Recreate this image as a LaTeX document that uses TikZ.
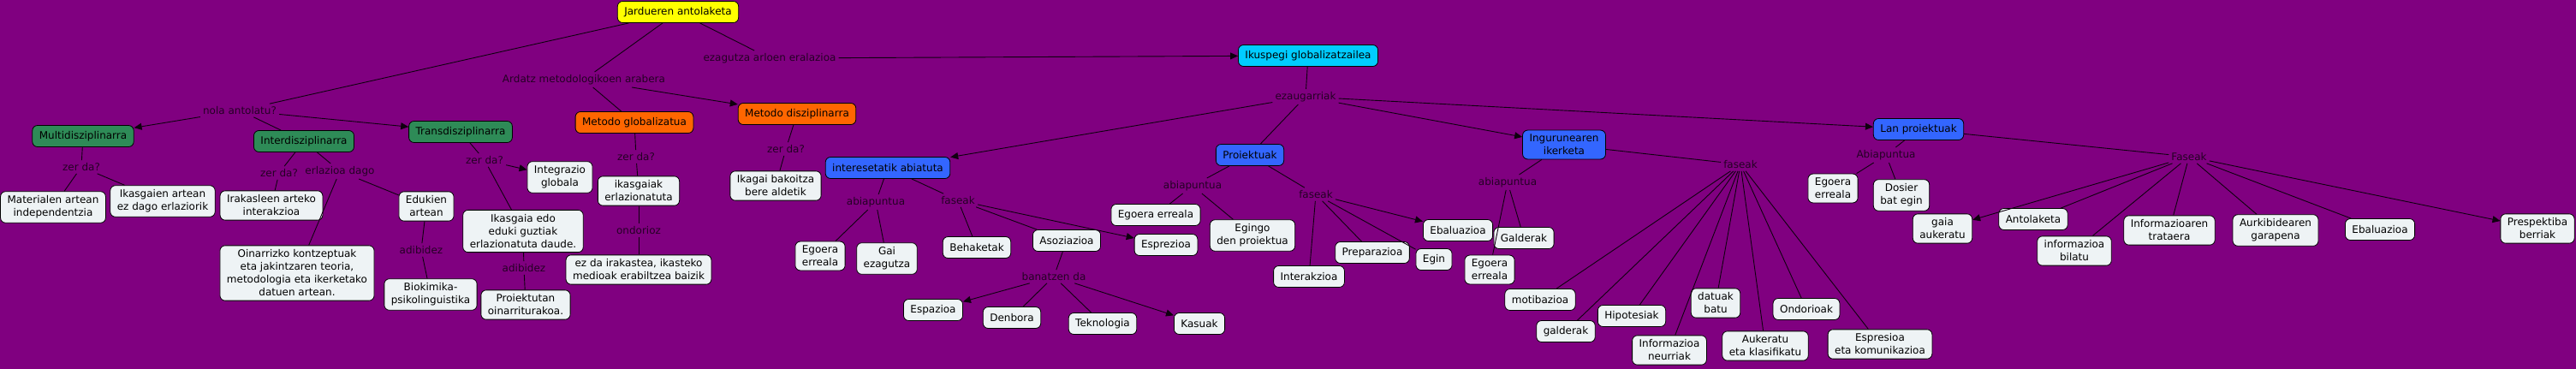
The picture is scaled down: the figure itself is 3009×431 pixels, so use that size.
\documentclass[tikz,border=0pt]{standalone}
\usepackage{fontspec}
\setmainfont{DejaVu Sans}
\usetikzlibrary{arrows.meta}
\definecolor{bgpurple}{RGB}{128,0,128}
\definecolor{boxfill}{RGB}{238,243,245}
\definecolor{lblcol}{RGB}{36,0,36}
\definecolor{linecol}{RGB}{15,0,15}
\definecolor{cgreen}{RGB}{46,139,87}
\definecolor{corange}{RGB}{255,102,0}
\definecolor{cblue}{RGB}{51,102,255}
\definecolor{ccyan}{RGB}{0,204,255}
\definecolor{cyellow}{RGB}{255,255,0}
\begin{document}
\begin{tikzpicture}[x=1pt,y=-1pt,
  concept/.style={draw=black, line width=0.8pt, rounded corners=6pt, fill=boxfill,
    align=center, font=\fontsize{12}{15}\selectfont, inner xsep=8pt, inner ysep=5pt,
    minimum height=25pt, text=black},
  green/.style={concept, fill=cgreen},
  orange/.style={concept, fill=corange},
  blue/.style={concept, fill=cblue},
  cyanbox/.style={concept, fill=ccyan},
  yellowbox/.style={concept, fill=cyellow},
  lbl/.style={font=\fontsize{12}{15}\selectfont, text=lblcol, inner sep=3pt},
  conn/.style={draw=linecol, line width=0.9pt},
  arr/.style={conn, -{Triangle[length=9pt,width=8pt]}}
]
\fill[bgpurple] (0,0) rectangle (3009,431);
\useasboundingbox (0,0) rectangle (3009,431);

% ---------- concepts ----------
\node[yellowbox] (jard) at (792,14) {Jardueren antolaketa};
\node[green] (multi) at (97,159) {Multidisziplinarra};
\node[green] (inter) at (355,165) {Interdisziplinarra};
\node[green] (trans) at (538,154) {Transdisziplinarra};
\node[concept] (mat) at (62,242) {Materialen artean\\independentzia};
\node[concept] (ikasgaien) at (190,235) {Ikasgaien artean\\ez dago erlaziorik};
\node[concept] (irak) at (317,240) {Irakasleen arteko\\interakzioa};
\node[concept] (oin) at (347,319) {Oinarrizko kontzeptuak\\eta jakintzaren teoria,\\metodologia eta ikerketako\\datuen artean.};
\node[concept] (eduk) at (498,241) {Edukien\\artean};
\node[concept] (biok) at (503,344) {Biokimika-\\psikolinguistika};
\node[concept] (integ) at (654,207) {Integrazio\\globala};
\node[concept] (ikasgaia) at (611,270) {Ikasgaia edo\\eduki guztiak\\erlazionatuta daude.};
\node[concept] (proiektutan) at (614,356) {Proiektutan\\oinarriturakoa.};
\node[orange] (metglob) at (741,143) {Metodo globalizatua};
\node[concept] (ikasgaiak) at (746,223) {ikasgaiak\\erlazionatuta};
\node[concept] (ezda) at (746,315) {ez da irakastea, ikasteko\\medioak erabiltzea baizik};
\node[orange] (metdisz) at (931,133) {Metodo disziplinarra};
\node[concept] (ikagai) at (906,217) {Ikagai bakoitza\\bere aldetik};
\node[cyanbox] (ikus) at (1528,65) {Ikuspegi globalizatzailea};
\node[blue] (interes) at (1037,196) {interesetatik abiatuta};
\node[concept] (egoera1) at (958,299) {Egoera\\erreala};
\node[concept] (gai) at (1036,302) {Gai\\ezagutza};
\node[concept] (behak) at (1141,289) {Behaketak};
\node[concept] (asoz) at (1246,281) {Asoziazioa};
\node[concept] (espr) at (1362,286) {Esprezioa};
\node[concept] (espaz) at (1090,362) {Espazioa};
\node[concept] (denb) at (1182,371) {Denbora};
\node[concept] (tekn) at (1288,378) {Teknologia};
\node[concept] (kasu) at (1401,378) {Kasuak};
\node[blue] (proi) at (1460,181) {Proiektuak};
\node[concept] (egoera2) at (1350,251) {Egoera erreala};
\node[concept] (egingo) at (1463,275) {Egingo\\den proiektua};
\node[concept] (interak) at (1529,323) {Interakzioa};
\node[concept] (prep) at (1603,295) {Preparazioa};
\node[concept] (egin) at (1675,303) {Egin};
\node[concept] (ebal1) at (1703,269) {Ebaluazioa};
\node[blue] (ingur) at (1827,169) {Ingurunearen\\ikerketa};
\node[concept] (galderak1) at (1780,278) {Galderak};
\node[concept] (egoera3) at (1740,315) {Egoera\\erreala};
\node[concept] (motib) at (1799,350) {motibazioa};
\node[concept] (galderak2) at (1829,387) {galderak};
\node[concept] (hipo) at (1906,369) {Hipotesiak};
\node[concept] (infneur) at (1950,409) {Informazioa\\neurriak};
\node[concept] (datuak) at (2004,354) {datuak\\batu};
\node[concept] (auker) at (2062,404) {Aukeratu\\eta klasifikatu};
\node[concept] (ondor) at (2110,361) {Ondorioak};
\node[concept] (espres) at (2196,402) {Espresioa\\eta komunikazioa};
\node[blue] (lan) at (2241,151) {Lan proiektuak};
\node[concept] (egoera4) at (2141,220) {Egoera\\erreala};
\node[concept] (dosier) at (2221,228) {Dosier\\bat egin};
\node[concept] (gaia) at (2269,267) {gaia\\aukeratu};
\node[concept] (antol) at (2375,256) {Antolaketa};
\node[concept] (infbil) at (2423,293) {informazioa\\bilatu};
\node[concept] (inftrat) at (2534,269) {Informazioaren\\trataera};
\node[concept] (aurkib) at (2658,269) {Aurkibidearen\\garapena};
\node[concept] (ebal2) at (2780,268) {Ebaluazioa};
\node[concept] (presp) at (2964,267) {Prespektiba\\berriak};

% ---------- linking phrases ----------
\node[lbl] (l_nola) at (280,129) {nola antolatu?};
\node[lbl] (l_zm) at (95,195) {zer da?};
\node[lbl] (l_zi) at (326,202) {zer da?};
\node[lbl] (l_erl) at (397,200) {erlazioa dago};
\node[lbl] (l_adib1) at (492,292) {adibidez};
\node[lbl] (l_zt) at (566,187) {zer da?};
\node[lbl] (l_adib2) at (612,313) {adibidez};
\node[lbl] (l_ardatz) at (682,93) {Ardatz metodologikoen arabera};
\node[lbl] (l_zg) at (743,183) {zer da?};
\node[lbl] (l_ondo) at (746,269) {ondorioz};
\node[lbl] (l_ezag) at (899,68) {ezagutza arloen eralazioa};
\node[lbl] (l_zd) at (918,174) {zer da?};
\node[lbl] (l_ezau) at (1525,113) {ezaugarriak};
\node[lbl] (l_abi1) at (1023,236) {abiapuntua};
\node[lbl] (l_fas1) at (1119,234) {faseak};
\node[lbl] (l_ban) at (1231,323) {banatzen da};
\node[lbl] (l_abi2) at (1393,217) {abiapuntua};
\node[lbl] (l_fas2) at (1537,227) {faseak};
\node[lbl] (l_abi3) at (1761,213) {abiapuntua};
\node[lbl] (l_fas3) at (2033,192) {faseak};
\node[lbl] (l_abi4) at (2203,181) {Abiapuntua};
\node[lbl] (l_fas4) at (2557,183) {Faseak};

% ---------- connectors ----------
\draw[conn] (jard) -- (l_nola);
\draw[arr] (l_nola) -- (multi);
\draw[conn] (l_nola) -- (inter);
\draw[arr] (l_nola) -- (trans);
\draw[conn] (multi) -- (l_zm);
\draw[conn] (l_zm) -- (mat);
\draw[conn] (l_zm) -- (ikasgaien);
\draw[conn] (inter) -- (l_zi);
\draw[conn] (l_zi) -- (irak);
\draw[conn] (inter) -- (l_erl);
\draw[conn] (l_erl) -- (oin);
\draw[conn] (l_erl) -- (eduk);
\draw[conn] (eduk) -- (l_adib1);
\draw[conn] (l_adib1) -- (biok);
\draw[conn] (trans) -- (l_zt);
\draw[arr] (l_zt) -- (integ);
\draw[conn] (l_zt) -- (ikasgaia);
\draw[conn] (ikasgaia) -- (l_adib2);
\draw[conn] (l_adib2) -- (proiektutan);
\draw[conn] (jard) -- (l_ardatz);
\draw[conn] (l_ardatz) -- (metglob);
\draw[arr] (l_ardatz) -- (metdisz);
\draw[conn] (metglob) -- (l_zg);
\draw[conn] (l_zg) -- (ikasgaiak);
\draw[conn] (ikasgaiak) -- (l_ondo);
\draw[conn] (l_ondo) -- (ezda);
\draw[conn] (metdisz) -- (l_zd);
\draw[conn] (l_zd) -- (ikagai);
\draw[conn] (jard) -- (l_ezag);
\draw[arr] (l_ezag) -- (ikus);
\draw[conn] (ikus) -- (l_ezau);
\draw[arr] (l_ezau) -- (interes);
\draw[conn] (l_ezau) -- (proi);
\draw[arr] (l_ezau) -- (ingur);
\draw[arr] (l_ezau) -- (lan);
\draw[conn] (interes) -- (l_abi1);
\draw[conn] (l_abi1) -- (egoera1);
\draw[conn] (l_abi1) -- (gai);
\draw[conn] (interes) -- (l_fas1);
\draw[conn] (l_fas1) -- (behak);
\draw[conn] (l_fas1) -- (asoz);
\draw[arr] (l_fas1) -- (espr);
\draw[conn] (asoz) -- (l_ban);
\draw[arr] (l_ban) -- (espaz);
\draw[conn] (l_ban) -- (denb);
\draw[conn] (l_ban) -- (tekn);
\draw[arr] (l_ban) -- (kasu);
\draw[conn] (proi) -- (l_abi2);
\draw[conn] (l_abi2) -- (egoera2);
\draw[conn] (l_abi2) -- (egingo);
\draw[conn] (proi) -- (l_fas2);
\draw[conn] (l_fas2) -- (interak);
\draw[conn] (l_fas2) -- (prep);
\draw[conn] (l_fas2) -- (egin);
\draw[arr] (l_fas2) -- (ebal1);
\draw[conn] (ingur) -- (l_abi3);
\draw[conn] (l_abi3) -- (egoera3);
\draw[conn] (l_abi3) -- (galderak1);
\draw[conn] (ingur) -- (l_fas3);
\foreach \t in {motib,galderak2,hipo,infneur,datuak,auker,ondor,espres}
  \draw[conn] (l_fas3) -- (\t);
\draw[conn] (lan) -- (l_abi4);
\draw[conn] (l_abi4) -- (egoera4);
\draw[conn] (l_abi4) -- (dosier);
\draw[conn] (lan) -- (l_fas4);
\draw[arr] (l_fas4) -- (gaia);
\foreach \t in {antol,infbil,inftrat,aurkib,ebal2}
  \draw[conn] (l_fas4) -- (\t);
\draw[arr] (l_fas4) -- (presp);
\end{tikzpicture}
\end{document}
